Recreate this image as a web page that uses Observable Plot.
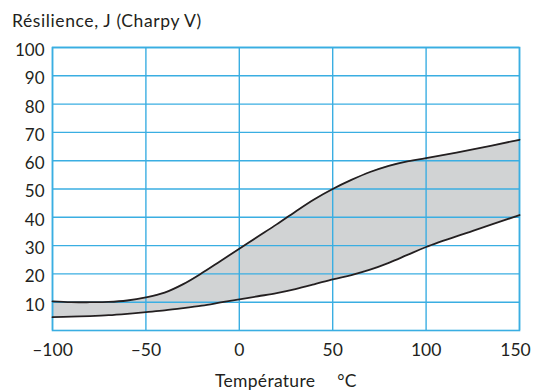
<!DOCTYPE html>
<html>
<head>
<meta charset="utf-8">
<script src="https://cdn.jsdelivr.net/npm/d3@7"></script>
<script src="https://cdn.jsdelivr.net/npm/@observablehq/plot@0.6"></script>
<style>
  html, body { margin: 0; padding: 0; background: #fff; }
  #wrap { position: relative; width: 533px; height: 392px; font-family: Lato, "Open Sans", sans-serif; color: #231f20; }
  #title { position: absolute; left: 12px; top: 11px; font-size: 17.5px; letter-spacing: 0.6px; line-height: 20px; white-space: nowrap; }
  #xlabel { position: absolute; left: 215px; top: 371px; font-size: 17.5px; line-height: 20px; white-space: nowrap; letter-spacing: 0.3px; }
  #xlabel span.unit { margin-left: 22px; }
  #chart { position: absolute; left: 0; top: 0; }
</style>
</head>
<body>
<div id="wrap">
  <div id="chart"></div>
  <div id="title">Résilience, J (Charpy V)</div>
  <div id="xlabel"><span>Température</span><span class="unit">°C</span></div>
</div>
<script>
// Data
const temperatures = [-100, -90, -80, -70, -60, -50, -40, -30, -20, -10, 0, 10, 20, 30, 40, 50, 60, 70, 80, 90, 100, 125, 150];
const upperJ = [10.3, 10, 10, 10.1, 10.6, 11.7, 13.4, 16.4, 20.3, 24.6, 28.9, 33.2, 37.5, 42, 46.3, 50, 53.2, 56, 58.2, 59.8, 60.9, 64, 67.4];
const lowerJ = [4.7, 4.9, 5.1, 5.4, 5.9, 6.5, 7.1, 7.9, 8.8, 9.9, 11, 12.1, 13.2, 14.6, 16.3, 18.1, 19.6, 21.5, 23.9, 26.7, 29.5, 35.2, 40.8];
const xTicks = [-100, -50, 0, 50, 100, 150];
const yTicks = [10, 20, 30, 40, 50, 60, 70, 80, 90, 100];

const rows = temperatures.map((t, i) => ({t, lo: lowerJ[i], hi: upperJ[i]}));
const blue = "#3aaee2";
const ink = "#231f20";
const fmtX = d => (d < 0 ? "\u2013" + Math.abs(d) : String(d));

const chart = Plot.plot({
  width: 533,
  height: 392,
  marginTop: 47,
  marginBottom: 62,
  marginLeft: 52,
  marginRight: 14,
  style: {fontFamily: "Lato, 'Open Sans', sans-serif", fontSize: "17px", color: ink, background: "transparent", overflow: "visible"},
  x: {domain: [-100, 150], label: null},
  y: {domain: [0, 100], label: null},
  marks: [
    Plot.areaY(rows, {x: "t", y1: "lo", y2: "hi", fill: "#d1d3d4", curve: "catmull-rom"}),
    Plot.gridX(xTicks, {stroke: blue, strokeOpacity: 1, strokeWidth: 1.4}),
    Plot.gridY(yTicks, {stroke: blue, strokeOpacity: 1, strokeWidth: 1.4}),
    Plot.frame({stroke: blue, strokeWidth: 1.6}),
    Plot.lineY(rows, {x: "t", y: "hi", stroke: ink, strokeWidth: 1.8, curve: "catmull-rom"}),
    Plot.lineY(rows, {x: "t", y: "lo", stroke: ink, strokeWidth: 1.8, curve: "catmull-rom"}),
    Plot.axisX(xTicks.slice(0, -1), {tickSize: 0, tickPadding: 13, fontSize: 17.5, tickFormat: fmtX, label: null}),
    Plot.axisX(xTicks.slice(-1), {tickSize: 0, tickPadding: 13, fontSize: 17.5, tickFormat: fmtX, label: null, dx: -4}),
    Plot.axisY({ticks: yTicks, tickSize: 0, tickPadding: 8, fontSize: 17, dy: 3, label: null})
  ]
});
document.getElementById("chart").appendChild(chart);
</script>
</body>
</html>
